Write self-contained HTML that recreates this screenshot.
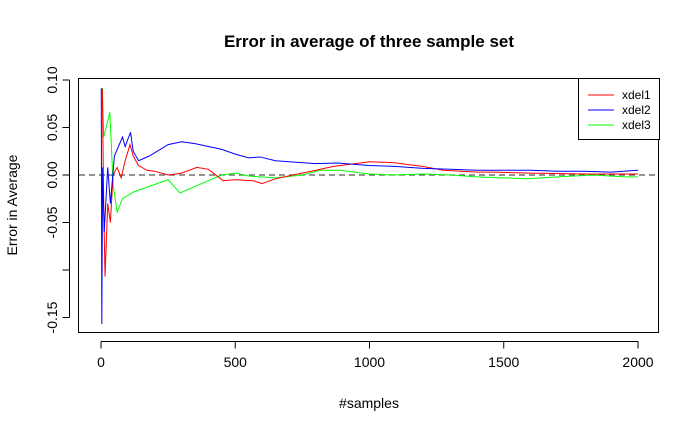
<!DOCTYPE html>
<html><head><meta charset="utf-8"><style>
body{margin:0;background:#fff;}
svg{display:block;font-family:"Liberation Sans",Arial,sans-serif;}
</style></head><body>
<svg id="chart" width="700" height="432" viewBox="0 0 700 432">
<text x="369" y="47" text-anchor="middle" font-size="17" font-weight="bold">Error in average of three sample set</text>
<text x="369" y="408" text-anchor="middle" font-size="14">#samples</text>
<text transform="translate(17,205) rotate(-90)" text-anchor="middle" font-size="14">Error in Average</text>
<rect x="78.5" y="78.5" width="580" height="254" fill="none" stroke="#000"/>
<g id="axes"></g>
<g id="series"></g>
<g>
<rect x="578.5" y="78.5" width="81" height="61" fill="#fff" stroke="#000"/>
<line x1="588" y1="95" x2="614" y2="95" stroke="#f00"/>
<line x1="588" y1="110" x2="614" y2="110" stroke="#00f"/>
<line x1="588" y1="125" x2="614" y2="125" stroke="#0f0"/>
<text x="622" y="99" font-size="12">xdel1</text>
<text x="622" y="114" font-size="12">xdel2</text>
<text x="622" y="129" font-size="12">xdel3</text>
</g>
</svg>
<script>
const xTicks=[0,500,1000,1500,2000];
const yTicks=[0.10,0.05,0.00,-0.05,-0.10,-0.15];
const yTickLabels=["0.10","0.05","0.00","-0.05","","-0.15"];
const samplesRed=[1,5,10,15,25,35,45,60,75,90,108,120,140,171,200,250,300,357,400,455,500,567,600,650,715,800,864,1000,1088,1200,1274,1400,1460,1600,1800,2000];
const xdel1=[0.091,0.09,-0.03,-0.107,-0.03,-0.05,0.0,0.008,-0.003,0.015,0.032,0.02,0.01,0.005,0.004,0.0,0.002,0.008,0.006,-0.006,-0.005,-0.006,-0.009,-0.004,0.0,0.005,0.009,0.014,0.013,0.009,0.005,0.003,0.003,0.002,0.001,0.001];
const samplesBlue=[1,3,6,12,25,35,50,80,90,110,120,140,180,250,300,350,400,450,500,550,592,650,700,800,880,1000,1100,1200,1300,1400,1500,1600,1700,1800,1900,2000];
const xdel2=[0.091,-0.157,0.008,-0.06,0.008,-0.03,0.02,0.04,0.03,0.045,0.025,0.015,0.02,0.032,0.035,0.033,0.03,0.027,0.022,0.018,0.019,0.015,0.014,0.012,0.0126,0.01,0.009,0.007,0.006,0.005,0.005,0.005,0.004,0.004,0.003,0.005];
const samplesGreen=[1,5,10,33,45,60,80,120,150,200,250,294,350,400,450,500,550,592,650,750,815,890,1000,1088,1200,1300,1400,1500,1586,1700,1832,1950,2000];
const xdel3=[0.091,0.091,0.04,0.066,-0.01,-0.039,-0.025,-0.018,-0.015,-0.01,-0.005,-0.019,-0.012,-0.006,0.0,0.002,-0.001,-0.002,-0.003,0.0,0.005,0.005,0.001,0.0,0.001,0.0,-0.002,-0.003,-0.004,-0.002,0.0,-0.002,-0.002];
const X=v=>101+v*(638-101)/2000;
const Y=v=>175-v*(175-80)/0.10;
const NS="http://www.w3.org/2000/svg";
const axes=document.getElementById('axes'),series=document.getElementById('series');
function mk(tag,attrs,parent){const e=document.createElementNS(NS,tag);for(const k in attrs)e.setAttribute(k,attrs[k]);parent.appendChild(e);return e;}
const xa=mk('line',{x1:X(0),x2:X(2000),y1:341.5,y2:341.5,stroke:'#000'},axes);


xTicks.forEach(t=>{
 mk('line',{x1:X(t),x2:X(t),y1:341.5,y2:348.5,stroke:'#000'},axes);
 const tx=mk('text',{x:X(t),y:367,'text-anchor':'middle','font-size':14},axes);
 tx.textContent=t;
 
 
});
const ya=mk('line',{x1:69.5,x2:69.5,y1:Y(0.10),y2:Y(-0.15),stroke:'#000'},axes);


yTicks.forEach((t,i)=>{
 mk('line',{x1:69.5,x2:62.5,y1:Y(t),y2:Y(t),stroke:'#000'},axes);
 const tx=mk('text',{transform:`translate(57,${Y(t)}) rotate(-90)`,'text-anchor':'middle','font-size':14},axes);
 tx.textContent=yTickLabels[i];
 
 
});
const zl=mk('line',{x1:79,x2:658,y1:Y(0),y2:Y(0),stroke:'#555','stroke-dasharray':'6,4','stroke-width':1.3},series);


function line(xs,ys,col,name){
 const p=mk('polyline',{points:xs.map((s,i)=>X(s)+','+Y(ys[i])).join(' '),fill:'none',stroke:col,'stroke-width':1},series);
 
 
}
line(samplesGreen,xdel3,'#0f0','series-xdel3');
line(samplesRed,xdel1,'#f00','series-xdel1');
line(samplesBlue,xdel2,'#00f','series-xdel2');
</script>
</body></html>
